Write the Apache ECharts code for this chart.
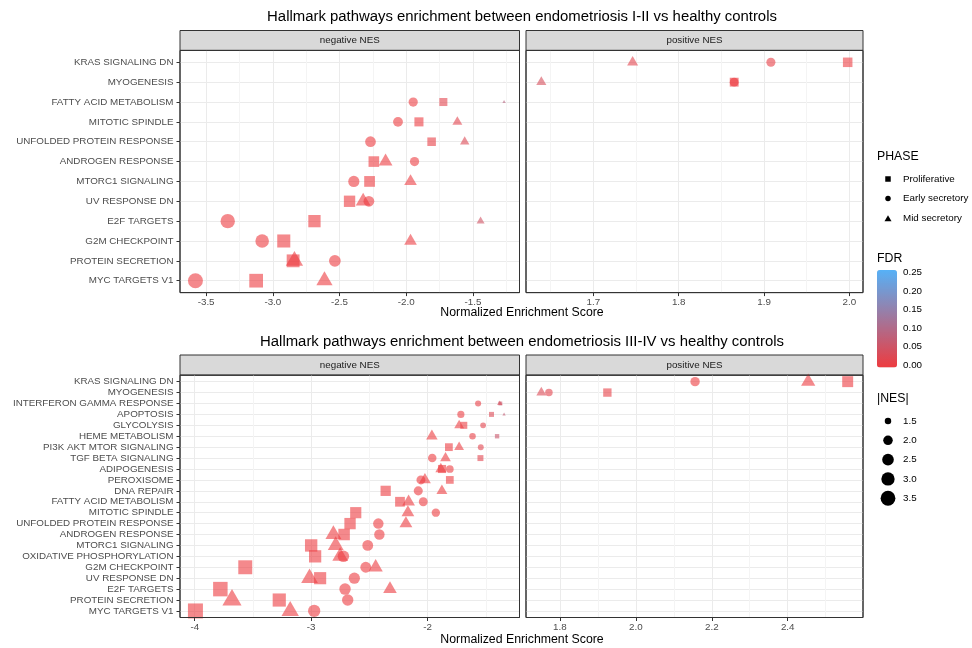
<!DOCTYPE html>
<html>
<head>
<meta charset="utf-8">
<script src="https://cdn.jsdelivr.net/npm/echarts@6/dist/echarts.min.js"></script>
<style>
html, body { margin: 0; padding: 0; background: #fff; }
#chart { width: 972px; height: 648px; }
</style>
</head>
<body>
<div id="chart"></div>
<script>
// ---------- data ----------
const phases = ['Proliferative', 'Early secretory', 'Mid secretory'];

const topPathways = ['KRAS SIGNALING DN', 'MYOGENESIS', 'FATTY ACID METABOLISM', 'MITOTIC SPINDLE',
  'UNFOLDED PROTEIN RESPONSE', 'ANDROGEN RESPONSE', 'MTORC1 SIGNALING', 'UV RESPONSE DN',
  'E2F TARGETS', 'G2M CHECKPOINT', 'PROTEIN SECRETION', 'MYC TARGETS V1'];
const topProliferative = [1.998, 1.865, -1.722, -1.905, -1.81, -2.243, -2.275, -2.425, -2.688, -2.918, -2.848, -3.125];
const topEarlySecretory = [1.908, 1.865, -1.948, -2.062, -2.268, -1.938, -2.393, -2.28, -3.338, -3.08, -2.535, -3.58];
const topMidSecretory = [1.746, 1.639, -1.267, -1.617, -1.562, -2.155, -1.968, -2.323, -1.443, -1.968, -2.838, -2.613];
const topFdrProliferative = [0.004, 0.001, 0.02, 0.003, 0.01, 0.001, 0.001, 0.001, 0.001, 0.001, 0.001, 0.001];
const topFdrEarlySecretory = [0.01, 0.001, 0.004, 0.002, 0.001, 0.004, 0.001, 0.001, 0.001, 0.001, 0.001, 0.001];
const topFdrMidSecretory = [0.02, 0.04, 0.09, 0.02, 0.03, 0.001, 0.004, 0.001, 0.05, 0.004, 0.001, 0.001];

const bottomPathways = ['KRAS SIGNALING DN', 'MYOGENESIS', 'INTERFERON GAMMA RESPONSE', 'APOPTOSIS',
  'GLYCOLYSIS', 'HEME METABOLISM', 'PI3K AKT MTOR SIGNALING', 'TGF BETA SIGNALING', 'ADIPOGENESIS',
  'PEROXISOME', 'DNA REPAIR', 'FATTY ACID METABOLISM', 'MITOTIC SPINDLE', 'UNFOLDED PROTEIN RESPONSE',
  'ANDROGEN RESPONSE', 'MTORC1 SIGNALING', 'OXIDATIVE PHOSPHORYLATION', 'G2M CHECKPOINT',
  'UV RESPONSE DN', 'E2F TARGETS', 'PROTEIN SECRETION', 'MYC TARGETS V1'];
const bottomProliferative = [2.558, 1.925, -1.375, -1.451, -1.689, -1.403, -1.817, -1.546, -1.876, -1.809, -2.36,
  -2.237, -2.617, -2.666, -2.717, -3.0, -2.966, -3.566, -2.923, -3.78, -3.274, -3.994];
const bottomEarlySecretory = [2.156, 1.771, -1.566, -1.714, -1.523, -1.614, -1.543, -1.96, -1.809, -2.057, -2.08,
  -2.037, -1.929, -2.423, -2.414, -2.514, -2.723, -2.531, -2.629, -2.709, -2.686, -2.974];
const bottomMidSecretory = [2.454, 1.751, -1.38, -1.343, -1.729, -1.963, -1.729, -1.846, -1.886, -2.023, -1.877,
  -2.163, -2.169, -2.186, -2.809, -2.789, -2.751, -2.446, -3.014, -2.323, -3.68, -3.18];
const bottomFdrProliferative = [0.001, 0.01, 0.06, 0.03, 0.005, 0.06, 0.003, 0.02, 0.002, 0.003, 0.001,
  0.001, 0.001, 0.001, 0.001, 0.001, 0.001, 0.001, 0.001, 0.001, 0.001, 0.001];
const bottomFdrEarlySecretory = [0.002, 0.02, 0.01, 0.005, 0.02, 0.01, 0.02, 0.002, 0.004, 0.001, 0.001,
  0.001, 0.002, 0.001, 0.001, 0.001, 0.001, 0.001, 0.001, 0.001, 0.001, 0.001];
const bottomFdrMidSecretory = [0.001, 0.03, 0.04, 0.07, 0.004, 0.002, 0.004, 0.003, 0.002, 0.001, 0.002,
  0.001, 0.001, 0.001, 0.001, 0.001, 0.001, 0.001, 0.001, 0.001, 0.001, 0.001];

const topNegTicks = [-3.5, -3.0, -2.5, -2.0, -1.5];
const topPosTicks = [1.7, 1.8, 1.9, 2.0];
const bottomNegTicks = [-4, -3, -2];
const bottomPosTicks = [1.8, 2.0, 2.2, 2.4];
const sizeBreaks = [1.5, 2.0, 2.5, 3.0, 3.5];

// ---------- helpers ----------
const FONT = '"Liberation Sans", Arial, Helvetica, sans-serif';
const shapes = ['rect', 'circle', 'triangle'];

// ggplot-like 5% expansion of a continuous range
function expand(vals) {
  const lo = Math.min(...vals), hi = Math.max(...vals);
  const pad = (hi - lo) * 0.05;
  return [lo - pad, hi + pad];
}
// area scale like scale_size(): diameter grows with sqrt of the rescaled |NES|
function sizeScale(absVals) {
  const lo = Math.min(...absVals), hi = Math.max(...absVals);
  return v => 2.5 * (1 + 5 * Math.sqrt(Math.max(0, (v - lo) / (hi - lo))));
}
function isTick(ticks, v) {
  return ticks.some(t => Math.abs(t - v) < 1e-6);
}

const plots = [
  {
    pathways: topPathways,
    nes: [topProliferative, topEarlySecretory, topMidSecretory],
    fdr: [topFdrProliferative, topFdrEarlySecretory, topFdrMidSecretory],
    top: 50.4, height: 242.2,
    negTicks: topNegTicks, posTicks: topPosTicks, negStep: 0.5, posStep: 0.1, negDigits: 1, posDigits: 1
  },
  {
    pathways: bottomPathways,
    nes: [bottomProliferative, bottomEarlySecretory, bottomMidSecretory],
    fdr: [bottomFdrProliferative, bottomFdrEarlySecretory, bottomFdrMidSecretory],
    top: 375.1, height: 242.4,
    negTicks: bottomNegTicks, posTicks: bottomPosTicks, negStep: 1, posStep: 0.2, negDigits: 0, posDigits: 1
  }
];

const grids = [], xAxes = [], yAxes = [], series = [], borders = [];
const dataSeriesIdx = [];
let legendSize = null;

plots.forEach((p, k) => {
  const all = [].concat(...p.nes).filter(v => v != null);
  const size = sizeScale(all.map(Math.abs));
  if (k === 0) legendSize = size;
  const n = p.pathways.length;
  const idx = p.pathways.map((_, i) => i);

  ['neg', 'pos'].forEach((side, s) => {
    const gi = k * 2 + s;
    const vals = all.filter(v => side === 'neg' ? v < 0 : v > 0);
    const range = expand(vals);
    const ticks = side === 'neg' ? p.negTicks : p.posTicks;
    const step = side === 'neg' ? p.negStep : p.posStep;
    const digits = side === 'neg' ? p.negDigits : p.posDigits;
    const left = side === 'neg' ? 180 : 526;
    const width = side === 'neg' ? 339.5 : 337;

    grids.push({
      left: left, width: width, top: p.top, height: p.height,
      show: true, backgroundColor: '#fff', borderColor: '#333', borderWidth: 1,
      outerBoundsMode: 'none'
    });
    // panel border drawn over the grid lines
    borders.push({
      type: 'rect', silent: true, z: 100,
      shape: { x: left, y: p.top, width: width, height: p.height },
      style: { fill: null, stroke: '#333', lineWidth: 1 }
    });
    xAxes.push({
      type: 'value', gridIndex: gi, position: 'bottom', min: range[0], max: range[1],
      minInterval: step, maxInterval: step,
      axisLine: { show: false, onZero: false },
      axisTick: { show: true, length: 3.5, lineStyle: { color: '#333' }, customValues: ticks },
      axisLabel: {
        customValues: ticks, color: '#4D4D4D', fontSize: 9.8, fontFamily: FONT, margin: 5,
        formatter: v => isTick(ticks, v) ? v.toFixed(digits) : ''
      },
      splitLine: { show: true, lineStyle: { color: '#EBEBEB', width: 1 } },
      minorTick: { show: false, splitNumber: 2 },
      minorSplitLine: { show: true, lineStyle: { color: '#F4F4F4', width: 1 } }
    });
    yAxes.push({
      type: 'value', gridIndex: gi, position: 'left', inverse: true, min: -0.6, max: n - 1 + 0.6,
      minInterval: 1, maxInterval: 1,
      axisLine: { show: false, onZero: false },
      axisTick: { show: side === 'neg', length: 3.5, lineStyle: { color: '#333' }, customValues: idx },
      axisLabel: {
        show: side === 'neg', customValues: idx, color: '#4D4D4D', fontSize: 9.8, fontFamily: FONT, margin: 6.5,
        formatter: v => Math.abs(v - Math.round(v)) < 1e-6 ? (p.pathways[Math.round(v)] || '') : ''
      },
      splitLine: { show: true, lineStyle: { color: '#EBEBEB', width: 1 } }
    });

    phases.forEach((ph, j) => {
      const data = [];
      p.nes[j].forEach((v, i) => {
        if (v == null || (side === 'neg') !== (v < 0)) return;
        const d = size(Math.abs(v));
        const item = { value: [v, i, Math.abs(v), p.fdr[j][i]] };
        if (shapes[j] === 'triangle') {
          item.symbolSize = [1.347 * d, 1.1665 * d];
          item.symbolOffset = [0, -0.194 * d];
        } else {
          item.symbolSize = [d, d];
        }
        data.push(item);
      });
      dataSeriesIdx.push(series.length);
      series.push({
        type: 'scatter', name: ph, xAxisIndex: gi, yAxisIndex: gi,
        symbol: shapes[j], data: data,
        itemStyle: { opacity: 0.6 },
        emphasis: { disabled: true }, silent: true
      });
    });
  });
});

// FDR colour bar label axis (grid 4: xAxis 4, yAxis 4 and 5)
grids.push({ left: 877, width: 20, top: 272.4, height: 92.7, show: false, outerBoundsMode: 'none' });
xAxes.push({ type: 'value', gridIndex: 4, show: false, min: 0, max: 1 });
yAxes.push({
  type: 'value', gridIndex: 4, position: 'right', min: 0, max: 0.25, interval: 0.05,
  axisLine: { show: false, onZero: false }, splitLine: { show: false },
  axisTick: { show: true, inside: true, length: 4, lineStyle: { color: '#fff', width: 1 } },
  axisLabel: { color: '#000', fontSize: 9.8, fontFamily: FONT, margin: 6, formatter: v => v.toFixed(2) }
});
yAxes.push({
  type: 'value', gridIndex: 4, position: 'left', min: 0, max: 0.25, interval: 0.05,
  axisLine: { show: false, onZero: false }, splitLine: { show: false }, axisLabel: { show: false },
  axisTick: { show: true, inside: true, length: 4, lineStyle: { color: '#fff', width: 1 } }
});

// |NES| size legend (grid 5: xAxis 5, yAxis 6)
grids.push({ left: 879, width: 18, top: 411.4, height: 96.5, show: false, outerBoundsMode: 'none' });
xAxes.push({ type: 'value', gridIndex: 5, show: false, min: -1, max: 1 });
yAxes.push({
  type: 'category', gridIndex: 5, position: 'right', inverse: true,
  data: sizeBreaks.map(v => v.toFixed(1)),
  axisLine: { show: false, onZero: false }, axisTick: { show: false }, splitLine: { show: false },
  axisLabel: { color: '#000', fontSize: 9.8, fontFamily: FONT, margin: 6 }
});
series.push({
  type: 'scatter', name: '|NES|', xAxisIndex: 5, yAxisIndex: 6, symbol: 'circle',
  data: sizeBreaks.map((v, i) => ({ value: [0, i], symbolSize: legendSize(v) })),
  itemStyle: { color: '#000', opacity: 1 }, silent: true
});

// PHASE shape legend (grid 6: xAxis 6, yAxis 7)
grids.push({ left: 879, width: 18, top: 169.2, height: 58.8, show: false, outerBoundsMode: 'none' });
xAxes.push({ type: 'value', gridIndex: 6, show: false, min: -1, max: 1 });
yAxes.push({
  type: 'category', gridIndex: 6, position: 'right', inverse: true, data: phases,
  axisLine: { show: false, onZero: false }, axisTick: { show: false }, splitLine: { show: false },
  axisLabel: { color: '#000', fontSize: 9.8, fontFamily: FONT, margin: 6 }
});
phases.forEach((ph, j) => {
  series.push({
    type: 'scatter', name: ph + ' key', xAxisIndex: 6, yAxisIndex: 7, symbol: shapes[j],
    symbolSize: shapes[j] === 'triangle' ? [7, 6] : 5.5,
    data: [[0, j]], itemStyle: { color: '#000', opacity: 1 }, silent: true
  });
});

function txt(x, y, text, size, color, align) {
  return {
    type: 'text', x: x, y: y, silent: true,
    style: { text: text, fill: color, fontSize: size, fontFamily: FONT, align: align || 'center', verticalAlign: 'middle' }
  };
}
function strip(x, y, w, h, label) {
  return [
    { type: 'rect', silent: true, shape: { x: x, y: y, width: w, height: h },
      style: { fill: '#D9D9D9', stroke: '#333', lineWidth: 1 } },
    txt(x + w / 2, y + h / 2, label, 9.8, '#1A1A1A')
  ];
}

const graphics = [
  txt(522, 17, 'Hallmark pathways enrichment between endometriosis I-II vs healthy controls', 14.9, '#000'),
  txt(522, 342, 'Hallmark pathways enrichment between endometriosis III-IV vs healthy controls', 14.9, '#000'),
  txt(522, 313, 'Normalized Enrichment Score', 12.3, '#000'),
  txt(522, 640, 'Normalized Enrichment Score', 12.3, '#000'),
  ...strip(180, 30.5, 339.5, 19.9, 'negative NES'),
  ...strip(526, 30.5, 337, 19.9, 'positive NES'),
  ...strip(180, 355, 339.5, 20.1, 'negative NES'),
  ...strip(526, 355, 337, 20.1, 'positive NES'),
  txt(877, 157, 'PHASE', 12.3, '#000', 'left'),
  txt(877, 258.5, 'FDR', 12.3, '#000', 'left'),
  txt(877, 398.5, '|NES|', 12.3, '#000', 'left'),
  ...borders
];

const chart = echarts.init(document.getElementById('chart'));
chart.setOption({
  animation: false,
  backgroundColor: '#fff',
  grid: grids,
  xAxis: xAxes,
  yAxis: yAxes,
  series: series,
  visualMap: {
    type: 'continuous', min: 0, max: 0.25, dimension: 3, seriesIndex: dataSeriesIdx,
    inRange: { color: ['#EE3B3F', '#56B1F7'] },
    orient: 'vertical', left: 877, top: 270, itemWidth: 20, itemHeight: 97.5, padding: 0,
    calculable: false, hoverLink: false, text: null
  },
  graphic: graphics
});
</script>
</body>
</html>
